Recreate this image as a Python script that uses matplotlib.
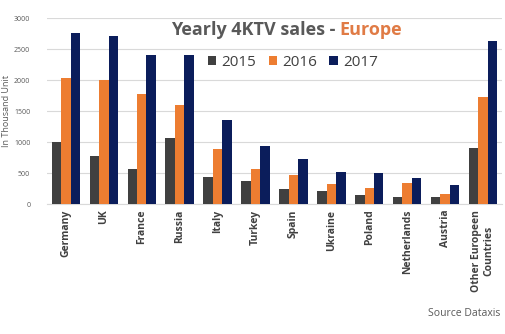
import matplotlib
matplotlib.use("Agg")
import matplotlib.pyplot as plt
import numpy as np

categories = ["Germany", "UK", "France", "Russia", "Italy", "Turkey", "Spain",
              "Ukraine", "Poland", "Netherlands", "Austria", "Other Europeen\nCountries"]
s2015 = [1000, 780, 570, 1070, 440, 375, 250, 215, 150, 120, 120, 910]
s2016 = [2040, 2000, 1775, 1605, 885, 570, 470, 330, 260, 345, 160, 1720]
s2017 = [2760, 2715, 2410, 2410, 1360, 935, 730, 520, 505, 425, 300, 2635]
years = ["2015", "2016", "2017"]
colors = ["#404040", "#ED7D31", "#0B1D5B"]
yticks = [0, 500, 1000, 1500, 2000, 2500, 3000]

plt.rcParams['font.family'] = ['Open Sans', 'DejaVu Sans']
fig = plt.figure(figsize=(5.05, 3.34), dpi=100)
ax = fig.add_axes([0.093, 0.389, 0.901, 0.557])

x = np.arange(len(categories))
w = 0.25
for i, (vals, c, lab) in enumerate(zip([s2015, s2016, s2017], colors, years)):
    ax.bar(x + (i - 1) * w, vals, width=w, color=c, label=lab, zorder=3)

ax.set_xlim(-0.5, len(categories) - 0.5)
ax.set_ylim(0, 3000)
ax.set_yticks(yticks)
ax.set_yticklabels([str(v) for v in yticks], fontsize=5, color="#595959")
ax.grid(axis='y', color="#D9D9D9", linewidth=0.8, zorder=0)
for s in ["left", "right", "top"]:
    ax.spines[s].set_visible(False)
ax.spines["bottom"].set_color("#D9D9D9")
ax.tick_params(axis='x', length=0, pad=4)
ax.tick_params(axis='y', length=0, pad=12)
ax.set_xticks(x)
ax.set_xticklabels(categories, rotation=90, fontsize=7.5, fontweight='bold',
                   color="#404040", ha='center', va='top', multialignment='center')
ax.set_ylabel("In Thousand Unit", fontsize=6.5, color="#595959")
ax.yaxis.set_label_coords(-0.079, 0.5)

# Title in two colors, centered as a whole
fig.canvas.draw()
r = fig.canvas.get_renderer()
t1 = fig.text(0, 0.91, "Yearly 4KTV sales - ", fontsize=13, fontweight='bold',
              color="#595959", ha='left', va='center')
t2 = fig.text(0, 0.91, "Europe", fontsize=13, fontweight='bold',
              color="#E07B45", ha='left', va='center')
w1 = t1.get_window_extent(r).width / fig.bbox.width
w2 = t2.get_window_extent(r).width / fig.bbox.width
x0 = 0.567 - (w1 + w2) / 2
t1.set_x(x0)
t2.set_x(x0 + w1)

ax.legend(loc='center', bbox_to_anchor=(0.580, 0.814), bbox_transform=fig.transFigure,
          ncol=3, frameon=False, fontsize=11, handlelength=0.55, handleheight=0.55,
          handletextpad=0.35, columnspacing=0.8, labelcolor="#404040")

fig.text(0.99, 0.06, "Source Dataxis", fontsize=7.5, color="#595959", ha='right', va='center')

fig.savefig("out.png", dpi=100, facecolor="white")
